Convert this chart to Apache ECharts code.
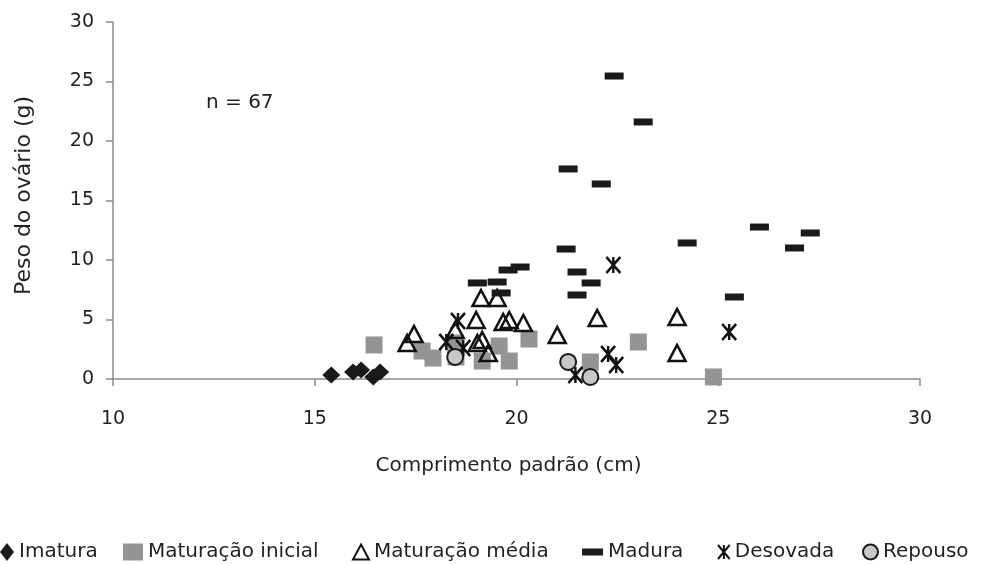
<!DOCTYPE html>
<html>
<head>
<meta charset="utf-8">
<script src="https://cdn.jsdelivr.net/npm/echarts@6/dist/echarts.min.js"></script>
<style>html,body{margin:0;padding:0;background:#fff}#c{width:982px;height:565px}</style>
</head>
<body>
<div id="c"></div>
<script>
// Data: [comprimento padrão (cm), peso do ovário (g)]
const imatura = [[15.41,0.34],[15.95,0.59],[16.15,0.76],[16.45,0.17],[16.62,0.59]];
const maturacaoInicial = [[16.47,2.86],[17.66,2.35],[17.93,1.76],[18.48,3.03],[18.50,1.85],[19.15,1.51],[19.57,2.77],[19.82,1.51],[20.31,3.36],[21.83,1.43],[23.02,3.11],[24.88,0.17]];
const maturacaoMedia = [[17.29,3.03],[17.46,3.78],[18.48,4.12],[19.00,4.96],[19.12,6.81],[19.52,6.81],[19.67,4.79],[19.82,4.96],[20.17,4.71],[19.03,3.03],[19.15,3.28],[19.30,2.18],[21.01,3.70],[22.00,5.13],[23.98,5.21],[23.98,2.18]];
const madura = [[19.03,8.07],[19.52,8.15],[19.62,7.23],[19.79,9.16],[20.09,9.41],[21.23,10.92],[21.28,17.65],[21.50,8.99],[21.50,7.06],[21.85,8.07],[22.10,16.39],[22.42,25.46],[23.14,21.60],[24.23,11.43],[25.40,6.89],[26.02,12.77],[26.89,11.01],[27.28,12.27]];
const desovada = [[18.55,4.87],[18.26,3.11],[18.68,2.60],[21.46,0.34],[22.27,2.10],[22.47,1.18],[22.40,9.58],[25.27,3.95]];
const repouso = [[18.48,1.85],[21.28,1.43],[21.83,0.17]];
const seriesNames = ['Imatura','Maturação inicial','Maturação média','Madura','Desovada','Repouso'];
const xTicks = {min:10, max:30, step:5};
const yTicks = {min:0, max:30, step:5};
const annotation = 'n = 67';

const FONT = 'DejaVu Sans';
const TXT = '#231f20';
const AX = '#8a8a8a';
const asterisk = 'path://M0,0L10,12M10,0L0,12M5,0L5,12';

const chart = echarts.init(document.getElementById('c'), null, {renderer:'canvas'});

function legendFor(name, left, w, h){
  return {
    data:[name], left:left, top:542, padding:0, itemWidth:w, itemHeight:h,
    selectedMode:false,
    textStyle:{fontFamily:FONT, fontSize:20, color:TXT}
  };
}

chart.setOption({
  animation:false,
  backgroundColor:'#fff',
  textStyle:{fontFamily:FONT},
  grid:{left:113, right:62, top:22, bottom:186},
  xAxis:{
    type:'value', min:xTicks.min, max:xTicks.max, interval:xTicks.step,
    name:'Comprimento padrão (cm)', nameLocation:'middle', nameGap:77,
    nameTextStyle:{fontFamily:FONT, fontSize:20, color:TXT, padding:[0,16,0,0]},
    axisLine:{show:true, lineStyle:{color:AX, width:1.5}},
    axisTick:{show:true, length:7, lineStyle:{color:AX, width:1.5}},
    axisLabel:{fontFamily:FONT, fontSize:19, color:TXT, margin:31},
    splitLine:{show:false}
  },
  yAxis:{
    type:'value', min:yTicks.min, max:yTicks.max, interval:yTicks.step,
    name:'Peso do ovário (g)', nameLocation:'middle', nameGap:78,
    nameTextStyle:{fontFamily:FONT, fontSize:22, color:TXT, padding:[0,0,0,10]},
    axisLine:{show:true, lineStyle:{color:AX, width:1.5}},
    axisTick:{show:true, length:7, lineStyle:{color:AX, width:1.5}},
    axisLabel:{fontFamily:FONT, fontSize:19, color:TXT, margin:19},
    splitLine:{show:false}
  },
  legend:[
    legendFor(seriesNames[0], 0, 14, 18),
    legendFor(seriesNames[1], 123, 20, 17),
    legendFor(seriesNames[2], 352, 16, 15),
    legendFor(seriesNames[3], 582, 21, 7),
    legendFor(seriesNames[4], 717, 12, 14),
    legendFor(seriesNames[5], 862, 15, 15)
  ],
  graphic:[{type:'text', left:206, top:93, style:{text:annotation, font:'20px "DejaVu Sans"', fill:TXT}}],
  series:[
    {name:seriesNames[0], type:'scatter', data:imatura, symbol:'diamond', symbolSize:[18,17],
     itemStyle:{color:'#1a1a1a', opacity:1}},
    {name:seriesNames[1], type:'scatter', data:maturacaoInicial, symbol:'rect', symbolSize:[17,17],
     itemStyle:{color:'#949494', opacity:1}},
    {name:seriesNames[2], type:'scatter', data:maturacaoMedia, symbol:'triangle', symbolSize:[17,16],
     itemStyle:{color:'rgba(255,255,255,0)', borderColor:'#111', borderWidth:2.5, opacity:1}},
    {name:seriesNames[3], type:'scatter', data:madura, symbol:'rect', symbolSize:[19,7],
     itemStyle:{color:'#1a1a1a', opacity:1}},
    {name:seriesNames[4], type:'scatter', data:desovada, symbol:asterisk, symbolSize:[14,16],
     itemStyle:{color:'rgba(0,0,0,0)', borderColor:'#111', borderWidth:2.6, opacity:1}},
    {name:seriesNames[5], type:'scatter', data:repouso, symbol:'circle', symbolSize:16,
     itemStyle:{color:'#c8c8c8', borderColor:'#1a1a1a', borderWidth:2, opacity:1}}
  ]
});
</script>
</body>
</html>
